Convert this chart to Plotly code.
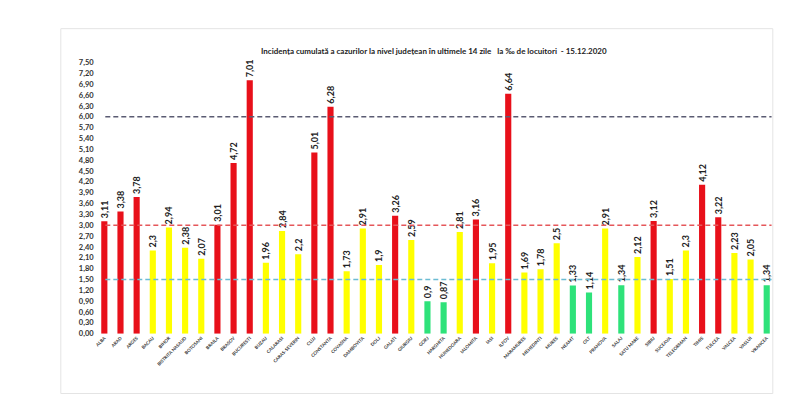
import plotly.graph_objects as go

# date 15.12.2020 - incidenta la 1000 locuitori pe judete
judete = ['ALBA', 'ARAD', 'ARGES', 'BACAU', 'BIHOR', 'BISTRITA NASAUD', 'BOTOSANI',
          'BRAILA', 'BRASOV', 'BUCURESTI', 'BUZAU', 'CALARASI', 'CARAS-SEVERIN', 'CLUJ',
          'CONSTANTA', 'COVASNA', 'DAMBOVITA', 'DOLJ', 'GALATI', 'GIURGIU', 'GORJ',
          'HARGHITA', 'HUNEDOARA', 'IALOMITA', 'IASI', 'ILFOV', 'MARAMURES', 'MEHEDINTI',
          'MURES', 'NEAMT', 'OLT', 'PRAHOVA', 'SALAJ', 'SATU MARE', 'SIBIU', 'SUCEAVA',
          'TELEORMAN', 'TIMIS', 'TULCEA', 'VALCEA', 'VASLUI', 'VRANCEA']
incidenta = [3.11, 3.38, 3.78, 2.3, 2.94, 2.38, 2.07,
             3.01, 4.72, 7.01, 1.96, 2.84, 2.2, 5.01,
             6.28, 1.73, 2.91, 1.9, 3.26, 2.59, 0.9,
             0.87, 2.81, 3.16, 1.95, 6.64, 1.69, 1.78,
             2.5, 1.33, 1.14, 2.91, 1.34, 2.12, 3.12, 1.51,
             2.3, 4.12, 3.22, 2.23, 2.05, 1.34]
praguri = [6.0, 3.0, 1.5]
culori_prag = ['#5a5b72', '#e5575a', '#6cbcd3']
y_ticks = [round(i * 0.3, 2) for i in range(26)]
y_text = [f'{v:.2f}'.replace('.', ',') for v in y_ticks]


def culoare(v):
    if v > 3:
        return '#e8101a'
    if v >= 1.5:
        return '#ffff00'
    return '#2ee27a'


etichete = [str(v).replace('.', ',') for v in incidenta]

fig = go.Figure(go.Bar(
    x=judete, y=incidenta,
    marker=dict(color=[culoare(v) for v in incidenta], line=dict(width=0)),
    text=etichete, textposition='outside', textangle=-90,
    textfont=dict(family='Lato', size=9, color='#222222', weight='bold'),
    constraintext='none', cliponaxis=False,
))

# linii de prag
for p, c in zip(praguri, culori_prag):
    fig.add_shape(type='line', xref='x', yref='y', x0=0.06, x1=41.3, y0=p, y1=p,
                  line=dict(color=c, width=1.5, dash='5px,3px'), layer='above')

# chenar
fig.add_shape(type='rect', xref='paper', yref='paper', x0=0.066, x1=0.956,
              y0=0.039, y1=0.958, line=dict(color='#e4e4e4', width=1))

fig.add_annotation(
    text='Incidența cumulată a cazurilor la nivel județean în ultimele 14 zile   la ‰ de locuitori  - 15.12.2020',
    xref='paper', yref='paper', x=0.533, y=0.919, showarrow=False,
    font=dict(family='Lato', size=8, color='#222222', weight='bold'))

fig.update_layout(
    width=800, height=406, margin=dict(l=0, r=0, t=0, b=0),
    paper_bgcolor='white', plot_bgcolor='white', showlegend=False,
    bargap=0.62,
    xaxis=dict(domain=[0.1083, 0.9585], range=[-0.6, 41.5], tickmode='array',
               tickvals=judete, tickangle=-45, showgrid=False, showline=False,
               tickfont=dict(family='Lato', size=4.5, color='#333333', weight='bold')),
    yaxis=dict(domain=[0.1897, 0.8727], range=[0, 7.5], tickmode='array',
               tickvals=y_ticks, ticktext=y_text, showgrid=False, zeroline=False,
               showline=False,
               tickfont=dict(family='Lato', size=7.5, color='#333333', weight='bold')),
)

fig.write_html('out.html')
